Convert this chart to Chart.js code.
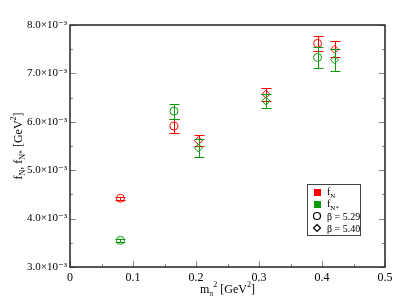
<!DOCTYPE html>
<html>
<head>
<meta charset="utf-8">
<script src="https://cdn.jsdelivr.net/npm/chart.js@4/dist/chart.umd.min.js"></script>
<style>html,body{margin:0;padding:0;background:#fff;}canvas{display:block;}</style>
</head>
<body>
<canvas id="c" width="398" height="307"></canvas>
<script>
// m_pi^2 [GeV^2]
const xB529 = [0.080, 0.165, 0.393];
const xB540 = [0.204, 0.311, 0.420];
// values in units of 1e-3 GeV^2
const fN_B529 = [4.42, 5.91, 7.62];
const fN_B529_err = [0.03, 0.15, 0.16];
const fNs_B529 = [3.55, 6.22, 7.33];
const fNs_B529_err = [0.03, 0.155, 0.22];
const fN_B540 = [5.61, 6.57, 7.50];
const fN_B540_err = [0.12, 0.13, 0.17];
const fNs_B540 = [5.46, 6.43, 7.28];
const fNs_B540_err = [0.19, 0.15, 0.23];
const xTicks = [0, 0.1, 0.2, 0.3, 0.4, 0.5];
const yTicks = [3, 4, 5, 6, 7, 8];

const RED = '#ff0000', GREEN = '#0a9a0a';
const SERIF = '"Liberation Serif", "DejaVu Serif", serif';

function pts(xs, ys, es) { return xs.map((x, i) => ({x: x, y: ys[i], e: es[i]})); }

function ds(label, xs, ys, es, color, style) {
  return {
    label: label, data: pts(xs, ys, es), showLine: false,
    pointStyle: style, pointRadius: 4, pointHoverRadius: 4,
    borderColor: color, backgroundColor: 'rgba(0,0,0,0)', borderWidth: 1,
    errColor: color
  };
}

function drawRich(ctx, parts, x, y, align) {
  let w = 0;
  const widths = parts.map(p => { ctx.font = p.size + 'px ' + SERIF; const ww = ctx.measureText(p.t).width; w += ww; return ww; });
  let cx = align === 'center' ? x - w / 2 : x;
  parts.forEach((p, i) => {
    ctx.font = p.size + 'px ' + SERIF;
    ctx.fillText(p.t, cx, y + (p.dy || 0));
    cx += widths[i];
  });
}

const errorBars = {
  id: 'errorBars',
  afterDatasetDraw(chart, args) {
    const ctx = chart.ctx, xs = chart.scales.x, ys = chart.scales.y;
    const d = chart.data.datasets[args.index];
    ctx.save();
    ctx.strokeStyle = d.errColor; ctx.lineWidth = 1;
    d.data.forEach(p => {
      const px = Math.round(xs.getPixelForValue(p.x)) + 0.5;
      const top = Math.round(ys.getPixelForValue(p.y + p.e)) + 0.5;
      const bot = Math.round(ys.getPixelForValue(p.y - p.e)) + 0.5;
      ctx.beginPath();
      ctx.moveTo(px, top); ctx.lineTo(px, bot);
      ctx.moveTo(px - 5, top); ctx.lineTo(px + 5, top);
      ctx.moveTo(px - 5, bot); ctx.lineTo(px + 5, bot);
      ctx.stroke();
    });
    ctx.restore();
  }
};

const frame = {
  id: 'frame',
  afterDraw(chart) {
    const ctx = chart.ctx, a = chart.chartArea, xs = chart.scales.x, ys = chart.scales.y;
    ctx.save();
    ctx.strokeStyle = '#888'; ctx.lineWidth = 1;
    ctx.beginPath();
    for (let v = 0; v <= 0.5001; v += 0.05) {
      const px = Math.round(xs.getPixelForValue(v)) + 0.5;
      const major = Math.abs(v * 10 - Math.round(v * 10)) < 1e-6;
      const L = major ? 6 : 3;
      ctx.moveTo(px, a.bottom); ctx.lineTo(px, a.bottom - L);
    }
    for (let v = 3; v <= 8.0001; v += 0.5) {
      const py = Math.round(ys.getPixelForValue(v)) + 0.5;
      const major = Math.abs(v - Math.round(v)) < 1e-6;
      const L = major ? 6 : 3;
      ctx.moveTo(a.left, py); ctx.lineTo(a.left + L, py);
      ctx.moveTo(a.right, py); ctx.lineTo(a.right - L, py);
    }
    ctx.stroke();
    ctx.strokeStyle = '#222'; ctx.lineWidth = 1.5;
    ctx.strokeRect(a.left, a.top, a.right - a.left, a.bottom - a.top);

    ctx.fillStyle = '#000'; ctx.textBaseline = 'alphabetic';
    drawRich(ctx, [
      {t: 'm', size: 12}, {t: 'π', size: 8, dy: 3}, {t: '2', size: 8, dy: -6},
      {t: ' [GeV', size: 12}, {t: '2', size: 8, dy: -6}, {t: ']', size: 12}
    ], (a.left + a.right) / 2, 293, 'center');
    ctx.save();
    ctx.translate(22, (a.top + a.bottom) / 2);
    ctx.rotate(-Math.PI / 2);
    drawRich(ctx, [
      {t: 'f', size: 12}, {t: 'N', size: 8, dy: 3}, {t: ', f', size: 12}, {t: 'N*', size: 8, dy: 3},
      {t: ' [GeV', size: 12}, {t: '2', size: 8, dy: -6}, {t: ']', size: 12}
    ], 0, 0, 'center');
    ctx.restore();

    const lx = 307, ly = 184, lw = 53, lh = 51;
    ctx.fillStyle = '#fff'; ctx.fillRect(lx, ly, lw, lh);
    ctx.strokeStyle = '#444'; ctx.lineWidth = 1;
    ctx.strokeRect(lx + 0.5, ly + 0.5, lw, lh);
    const mx = 317, tx = 327, rows = [192, 204, 216, 228];
    ctx.fillStyle = RED; ctx.fillRect(mx - 3, rows[0] - 3, 7, 7);
    ctx.fillStyle = GREEN; ctx.fillRect(mx - 3, rows[1] - 3, 7, 7);
    ctx.strokeStyle = '#000'; ctx.lineWidth = 1.2;
    ctx.beginPath(); ctx.arc(mx, rows[2], 3.5, 0, 2 * Math.PI); ctx.stroke();
    ctx.beginPath(); ctx.moveTo(mx, rows[3] - 3.5); ctx.lineTo(mx + 3.5, rows[3]); ctx.lineTo(mx, rows[3] + 3.5); ctx.lineTo(mx - 3.5, rows[3]); ctx.closePath(); ctx.stroke();
    ctx.fillStyle = '#000';
    drawRich(ctx, [{t: 'f', size: 10}, {t: 'N', size: 7, dy: 3}], tx, rows[0] + 3, 'left');
    drawRich(ctx, [{t: 'f', size: 10}, {t: 'N*', size: 7, dy: 3}], tx, rows[1] + 3, 'left');
    drawRich(ctx, [{t: 'β = 5.29', size: 10}], tx, rows[2] + 4, 'left');
    drawRich(ctx, [{t: 'β = 5.40', size: 10}], tx, rows[3] + 4, 'left');
    ctx.restore();
  }
};

new Chart(document.getElementById('c'), {
  type: 'scatter',
  data: {
    datasets: [
      ds('f_N* β=5.29', xB529, fNs_B529, fNs_B529_err, GREEN, 'circle'),
      ds('f_N* β=5.40', xB540, fNs_B540, fNs_B540_err, GREEN, 'rectRot'),
      ds('f_N β=5.29', xB529, fN_B529, fN_B529_err, RED, 'circle'),
      ds('f_N β=5.40', xB540, fN_B540, fN_B540_err, RED, 'rectRot')
    ]
  },
  options: {
    responsive: false, animation: false, events: [],
    layout: {padding: {left: 0, top: 25, right: 13, bottom: 0}},
    plugins: {legend: {display: false}, tooltip: {enabled: false}},
    scales: {
      x: {
        type: 'linear', min: 0, max: 0.5,
        afterBuildTicks: s => { s.ticks = xTicks.map(v => ({value: v})); },
        afterFit: s => { s.height = 40; },
        grid: {display: false, drawTicks: false},
        border: {display: false},
        ticks: {
          color: '#000', padding: 4, maxRotation: 0,
          font: {family: SERIF, size: 12},
          callback: v => v === 0 ? '0' : v.toFixed(1)
        }
      },
      y: {
        type: 'linear', min: 3, max: 8,
        afterBuildTicks: s => { s.ticks = yTicks.map(v => ({value: v})); },
        afterFit: s => { s.width = 70; },
        grid: {display: false, drawTicks: false},
        border: {display: false},
        ticks: {
          color: '#000', padding: 3,
          font: {family: SERIF, size: 11},
          callback: v => v.toFixed(1) + '×10⁻³'
        }
      }
    }
  },
  plugins: [errorBars, frame]
});
</script>
</body>
</html>
